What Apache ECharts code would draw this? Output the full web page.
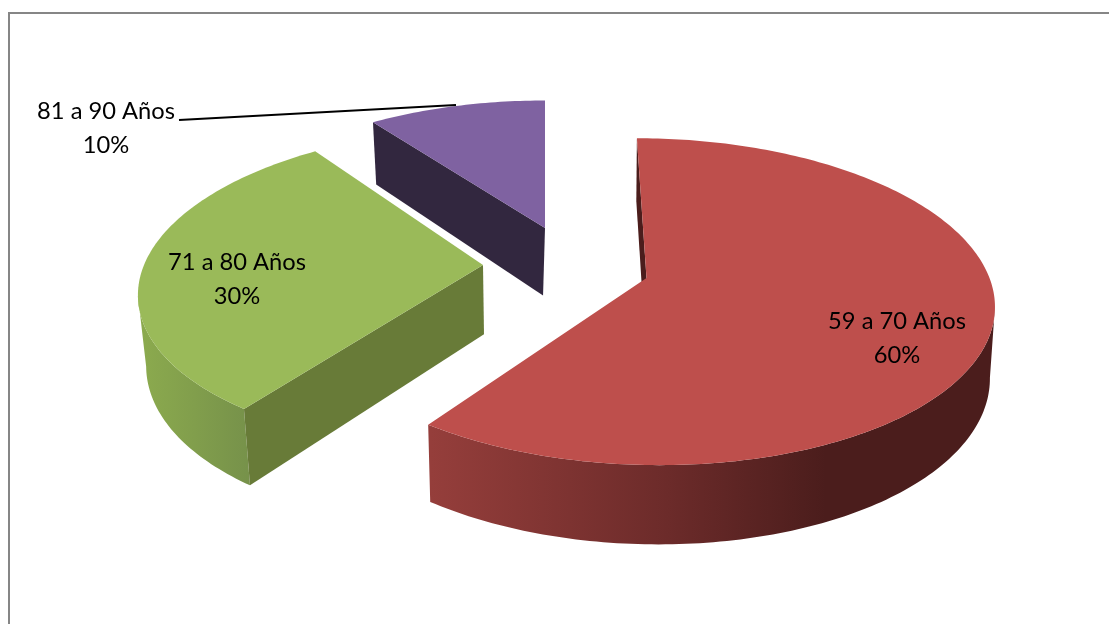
<!DOCTYPE html>
<html>
<head>
<meta charset="utf-8">
<style>html,body{margin:0;padding:0;background:#fff}#chart{width:1109px;height:624px}</style>
<script src="https://cdn.jsdelivr.net/npm/echarts@6/dist/echarts.min.js"></script>
</head>
<body>
<div id="chart"></div>
<script>
// Age groups and their shares (%)
const categories = ['59 a 70 Años', '71 a 80 Años', '81 a 90 Años'];
const shares = [60, 30, 10];

// Projection of each exploded slice: apex, radii, shear, and how the
// extruded lower edge leans towards its vanishing column.
const TILT = 0.145;
const sliceLayout = [
  { ax: 646.5, ay: 278, rx: 343, ry: 160, sx: 11,    vx: 591, vc: 0.0125 },
  { ax: 483,   ay: 265, rx: 339, ry: 157, sx: -14.5, vx: 530, vc: 0.021 },
  { ax: 545,   ay: 228, rx: 327, ry: 146, sx: 0,     vx: 480, vc: 0.03 }
];
const sliceStyle = [
  {
    top: '#be4f4c', cut: '#4b1d1c',
    side: [[431, 995], [[0, '#953e3b'], [0.42, '#6c2b2a'], [0.7, '#4b1d1c'], [1, '#4b1d1c']]]
  },
  {
    top: '#9aba59', cut: '#687b38',
    side: [[138, 251], [[0, '#8cab4e'], [1, '#76914a']]]
  },
  {
    top: '#7f62a1', cut: '#32273f',
    side: [[373, 545], [[0, '#32273f'], [1, '#32273f']]]
  }
];
const labelAnchors = [[897, 338], [237, 279.5], [106, 128]];
const leaderLine = [[179, 120], [456, 105]];

const total = shares.reduce((a, b) => a + b, 0);

// Screen position of a rim point at the given clockwise angle from the back.
function project(l, deg, r) {
  const t = deg * Math.PI / 180;
  const u = r * Math.sin(t), v = -r * Math.cos(t);
  const d = 1 - TILT * v;
  return [l.ax + (l.rx * u + l.sx * v) / d, l.ay + (l.ry * v) / d];
}
// Same point dropped to the underside of the disc.
function drop(l, p) {
  return [p[0] + (l.vx - p[0]) * l.vc, p[1] + 56 + 0.05 * p[1]];
}

function renderSlice(params, api) {
  const i = params.dataIndex;
  const l = sliceLayout[i], st = sliceStyle[i];
  let before = 0;
  for (let k = 0; k < i; k++) before += shares[k];
  const from = before / total * 360;
  const to = from + api.value(0) / total * 360;

  const rim = [];
  for (let a = from; a <= to + 1e-6; a += 1) rim.push(project(l, a, 1));
  const apex = [l.ax, l.ay];

  // Only the part of the rim running right-to-left on screen faces the viewer.
  const front = rim.filter((p, k) =>
    (k + 1 < rim.length && rim[k + 1][0] < p[0]) || (k > 0 && rim[k - 1][0] > p[0]));

  const sideFill = new echarts.graphic.LinearGradient(st.side[0][0], 0, st.side[0][1], 0,
    st.side[1].map(s => ({ offset: s[0], color: s[1] })), true);

  const children = [];
  if (front.length > 1) {
    children.push({
      type: 'polygon',
      shape: { points: front.concat(front.map(p => drop(l, p)).reverse()) },
      style: { fill: sideFill }
    });
  }
  children.push(
    { type: 'polygon', shape: { points: [rim[0], drop(l, rim[0]), drop(l, apex), apex] }, style: { fill: st.cut } },
    { type: 'polygon', shape: { points: [apex].concat(rim) }, style: { fill: st.top } }
  );
  if (i === 2) {
    children.push({
      type: 'line',
      shape: { x1: leaderLine[0][0], y1: leaderLine[0][1], x2: leaderLine[1][0], y2: leaderLine[1][1] },
      style: { stroke: '#000', lineWidth: 2 }
    });
  }
  children.push({
    type: 'text',
    style: {
      x: labelAnchors[i][0], y: labelAnchors[i][1],
      text: categories[i] + '\n' + api.value(0) + '%',
      fill: '#000', font: '23.7px Lato', lineHeight: 34,
      align: 'center', verticalAlign: 'middle'
    }
  });
  return { type: 'group', children };
}

const chart = echarts.init(document.getElementById('chart'), null, { renderer: 'canvas' });
chart.setOption({
  backgroundColor: '#ffffff',
  animation: false,
  graphic: [{
    type: 'polyline',
    shape: { points: [[9, 624], [9, 13], [1109, 13]] },
    style: { stroke: '#868686', lineWidth: 2, fill: 'none' },
    silent: true
  }],
  series: [{
    type: 'custom',
    coordinateSystem: 'none',
    silent: true,
    renderItem: renderSlice,
    data: shares.map(v => [v])
  }]
});
</script>
</body>
</html>
